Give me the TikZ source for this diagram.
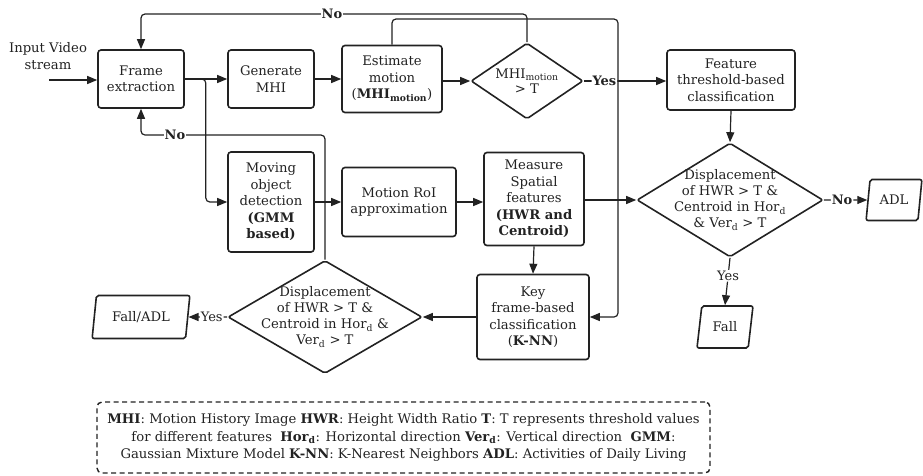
\documentclass[tikz,border=0pt]{standalone}
\usepackage{fontspec}
\setmainfont{DejaVu Serif}
\usetikzlibrary{shapes.geometric,arrows.meta,calc}
\definecolor{ink}{HTML}{222222}
\begin{document}
\begin{tikzpicture}[x=1pt,y=-1pt,
  font=\fontsize{13.2}{16.5}\selectfont, text=ink,
  box/.style={draw=ink, line width=1.6pt, rounded corners=3pt, align=center, inner sep=0pt},
  dia/.style={draw=ink, line width=1.6pt, diamond, rounded corners=2pt, inner sep=0pt},
  para/.style={draw=ink, line width=1.6pt, trapezium, trapezium left angle=76, trapezium right angle=104, trapezium stretches=true, rounded corners=2pt, inner sep=0pt},
  arr/.style={draw=ink, line width=1.2pt, -{Triangle[length=10pt,width=8pt]}, rounded corners=4pt},
  lbl/.style={fill=white, inner sep=1pt, font=\fontsize{13}{14}\selectfont\bfseries},
  lbln/.style={fill=white, inner sep=1pt, font=\fontsize{13}{14}\selectfont},
]
\useasboundingbox (0,0) rectangle (923,475);

% nodes
\node[align=center] (inp) at (48,56) {Input Video\\stream};
\coordinate (inpS) at (49,80);
\node[box, minimum width=86pt, minimum height=58pt] (frame) at (141,79) {Frame\\extraction};
\node[box, minimum width=86pt, minimum height=58pt] (gen) at (271,79) {Generate\\MHI};
\node[box, minimum width=100pt, minimum height=67pt] (est) at (392,79) {Estimate\\motion\\(\textbf{MHI\textsubscript{motion}})};
\node[dia, minimum width=112pt, minimum height=76pt,
  label={[align=center, font=\fontsize{13.2}{15}\selectfont]center:{MHI\textsubscript{motion}\\> T}}] (d1) at (527,81) {};
\node[box, minimum width=128pt, minimum height=60pt] (feat) at (731,80) {Feature\\threshold-based\\classification};
\node[dia, minimum width=186pt, minimum height=114pt,
  label={[align=center, font=\fontsize{13.2}{16}\selectfont]center:{Displacement\\of HWR > T \&\\Centroid in Hor\textsubscript{d}\\\& Ver\textsubscript{d} > T}}] (d2) at (730,200) {};
\node[para, minimum width=56pt, minimum height=41pt] (adl) at (894,200) {ADL};
\node[para, minimum width=56pt, minimum height=42pt] (fall) at (725,327) {Fall};

\node[box, minimum width=86pt, minimum height=100pt] (mov) at (271,202) {Moving\\object\\detection\\\textbf{(GMM}\\\textbf{based)}};
\node[box, minimum width=114pt, minimum height=69pt] (roi) at (399,202) {Motion RoI\\approximation};
\node[box, minimum width=100pt, minimum height=93pt] (meas) at (534,199) {Measure\\Spatial\\features\\\textbf{(HWR and}\\\textbf{Centroid)}};
\node[box, minimum width=112pt, minimum height=85pt] (key) at (533,317) {Key\\frame-based\\classification\\(\textbf{K-NN})};
\node[dia, minimum width=194pt, minimum height=113pt,
  label={[align=center, font=\fontsize{13.2}{16}\selectfont]center:{Displacement\\of HWR > T \&\\Centroid in Hor\textsubscript{d} \&\\Ver\textsubscript{d} > T}}] (d3) at (325,317) {};
\node[para, minimum width=98pt, minimum height=43pt] (fa) at (141,317) {Fall/ADL};

\node[draw=ink, dashed, dash pattern=on 5pt off 3.5pt, line width=1.4pt, rounded corners=5pt,
  minimum width=613pt, minimum height=71pt, align=center, font=\fontsize{13.2}{17.5}\selectfont] (leg) at (403.5,437.5)
  {\textbf{MHI}: Motion History Image \textbf{HWR}: Height Width Ratio \textbf{T}: T represents threshold values\\
   for different features\ \ \textbf{Hor\textsubscript{d}}: Horizontal direction \textbf{Ver\textsubscript{d}}: Vertical direction\ \ \textbf{GMM}:\\
   Gaussian Mixture Model \textbf{K-NN}: K-Nearest Neighbors \textbf{ADL}: Activities of Daily Living};

% connectors
\draw[arr] (inpS) -- (frame.west |- inpS);
\draw[arr] (frame.east) -- (gen.west);
\draw[arr] (gen.east) -- (est.west |- gen.east);
\draw[arr] (est.east |- d1.west) -- (d1.west);
\draw[arr] (d1.east) -- (feat.west |- d1.east) node[lbl, pos=0.25] {Yes};
\draw[arr] (d1.north) |- (frame.north |- 0,14) -- (frame.north);
\node[lbl] (noA) at (332,14) {No};
\draw[arr] (est.north) |- (618,19) |- (key.east);
\draw[arr] (frame.east) -- ++(21,0) |- (mov.west);
\draw[arr] (mov.east) -- (roi.west |- mov.east);
\draw[arr] (roi.east) -- (meas.west |- roi.east);
\draw[arr] (meas.east |- d2.west) -- (d2.west);
\draw[arr] (meas.south) -- (key.north);
\draw[arr] (key.west) -- (d3.east);
\draw[arr] (d3.west) -- (fa.east) node[lbln, pos=0.4] {Yes};
\draw[arr] (d3.north) |- (frame.south |- 0,135) -- (frame.south);
\node[lbl] (noB) at (175,135) {No};
\draw[arr] (feat.south) -- (d2.north);
\draw[arr] (d2.east) -- (adl.west) node[lbl, pos=0.42] {No};
\draw[arr] (d2.south) -- (fall.north) node[lbln, pos=0.38] {Yes};
\end{tikzpicture}
\end{document}
